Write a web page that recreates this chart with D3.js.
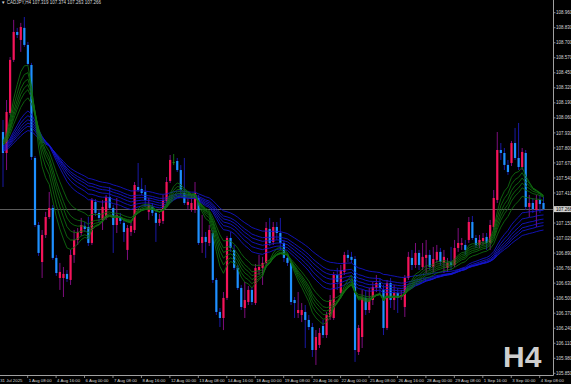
<!DOCTYPE html>
<html>
<head>
<meta charset="utf-8">
<script src="https://cdn.jsdelivr.net/npm/d3@7"></script>
<style>
  html, body { margin: 0; padding: 0; background: #000; }
  svg { display: block; }
</style>
</head>
<body>
<div id="chart"></div>
<script>
// CADJPY H4 candles, 31 Jul 2025 00:00 .. 4 Sep 2025 08:00 (153 bars)
const openP = [
  107.931, 107.750, 108.095, 108.553, 108.794, 108.725, 108.829, 108.682, 108.509, 107.707,
  107.129, 106.810, 107.043, 107.198, 107.276, 106.845, 106.672, 106.672, 106.707, 106.655,
  106.871, 107.000, 107.060, 107.121, 107.112, 106.974, 107.328, 107.233, 107.173, 107.190,
  107.371, 107.276, 107.129, 107.198, 107.147, 106.914, 107.069, 107.086, 107.457, 107.440,
  107.414, 107.242, 107.285, 107.233, 107.147, 107.164, 107.336, 107.509, 107.672, 107.681,
  107.603, 107.405, 107.302, 107.259, 107.259, 107.362, 106.974, 107.026, 106.974, 107.060,
  106.655, 106.379, 106.327, 106.500, 107.017, 106.914, 106.759, 106.586, 106.413, 106.465,
  106.569, 106.456, 106.741, 106.759, 106.802, 107.095, 106.983, 107.112, 107.060, 106.974,
  106.845, 106.802, 106.482, 106.370, 106.353, 106.379, 106.310, 106.249, 106.051, 106.094,
  106.258, 106.180, 106.336, 106.327, 106.698, 106.543, 106.724, 106.871, 106.854, 106.836,
  106.034, 106.163, 106.500, 106.396, 106.482, 106.586, 106.629, 106.569, 106.241, 106.629,
  106.482, 106.543, 106.508, 106.422, 106.672, 106.845, 106.784, 106.888, 106.767, 106.845,
  106.871, 106.767, 106.828, 106.897, 106.802, 106.759, 106.810, 106.784, 106.931, 106.957,
  106.957, 107.000, 107.155, 107.017, 106.957, 106.991, 107.026, 106.974, 107.112, 107.345,
  107.776, 107.750, 107.647, 107.664, 107.836, 107.707, 107.629, 107.750, 107.285, 107.319,
  107.259, 107.345, 107.319
];
const highP = [
  108.035, 108.207, 108.578, 108.898, 108.829, 108.872, 108.923, 108.708, 108.527, 107.724,
  107.155, 107.086, 107.242, 107.414, 107.302, 106.871, 106.802, 106.767, 106.741, 106.914,
  107.086, 107.103, 107.190, 107.155, 107.198, 107.362, 107.353, 107.259, 107.345, 107.388,
  107.457, 107.302, 107.362, 107.233, 107.173, 107.129, 107.155, 107.500, 107.664, 107.535,
  107.474, 107.362, 107.319, 107.259, 107.224, 107.388, 107.543, 107.733, 107.741, 107.707,
  107.646, 107.707, 107.362, 107.388, 107.500, 107.388, 107.216, 107.069, 107.129, 107.086,
  106.672, 106.413, 106.551, 107.035, 107.069, 106.957, 106.784, 106.612, 106.638, 106.603,
  106.595, 106.793, 106.871, 106.854, 107.155, 107.190, 107.155, 107.155, 107.190, 107.000,
  106.871, 106.828, 106.508, 106.551, 106.456, 106.439, 106.353, 106.284, 106.223, 106.241,
  106.310, 106.379, 106.525, 106.724, 106.759, 106.784, 106.897, 106.914, 106.897, 106.862,
  106.267, 106.569, 106.569, 106.586, 106.638, 106.698, 106.672, 106.612, 106.655, 106.672,
  106.612, 106.586, 106.569, 106.698, 106.897, 106.914, 106.974, 106.914, 106.974, 107.000,
  106.914, 106.940, 106.957, 106.931, 106.914, 106.845, 106.940, 107.000, 107.103, 107.017,
  107.000, 107.198, 107.207, 107.043, 107.043, 107.060, 107.060, 107.173, 107.431, 107.931,
  107.836, 107.793, 107.690, 107.854, 107.966, 108.009, 107.793, 107.776, 107.388, 107.362,
  107.388, 107.388, 107.374
];
const lowP = [
  107.457, 107.603, 108.078, 108.535, 108.742, 108.622, 108.665, 108.501, 107.690, 107.112,
  106.862, 106.672, 107.017, 107.181, 106.828, 106.690, 106.569, 106.508, 106.638, 106.612,
  106.802, 106.957, 107.035, 107.069, 106.948, 106.957, 107.207, 107.155, 107.086, 107.173,
  107.259, 106.888, 107.060, 107.138, 106.983, 106.828, 107.035, 107.060, 107.414, 107.388,
  107.285, 107.173, 107.207, 106.983, 107.121, 107.138, 107.319, 107.491, 107.646, 107.586,
  107.388, 107.302, 107.259, 107.242, 107.233, 106.957, 106.888, 106.845, 106.948, 106.629,
  106.353, 106.249, 106.223, 106.482, 106.897, 106.741, 106.569, 106.396, 106.327, 106.439,
  106.439, 106.439, 106.698, 106.612, 106.776, 106.948, 106.957, 107.000, 106.914, 106.810,
  106.776, 106.439, 106.327, 106.327, 106.292, 106.068, 106.223, 105.991, 105.922, 106.068,
  106.155, 106.155, 106.310, 106.310, 106.569, 106.508, 106.698, 106.810, 106.802, 105.948,
  106.008, 106.068, 106.353, 106.370, 106.439, 106.551, 106.525, 106.180, 106.223, 106.413,
  106.396, 106.370, 106.482, 106.336, 106.655, 106.741, 106.759, 106.741, 106.741, 106.715,
  106.741, 106.724, 106.802, 106.776, 106.715, 106.724, 106.741, 106.767, 106.897, 106.914,
  106.871, 106.974, 107.000, 106.931, 106.931, 106.957, 106.914, 106.914, 107.086, 107.319,
  107.690, 107.603, 107.561, 107.638, 107.690, 107.603, 107.603, 107.259, 107.198, 107.233,
  107.112, 107.233, 107.263
];
const closeP = [
  107.750, 108.104, 108.553, 108.794, 108.768, 108.837, 108.682, 108.518, 107.716, 107.129,
  106.888, 107.043, 107.198, 107.276, 106.845, 106.715, 106.724, 106.707, 106.664, 106.871,
  107.000, 107.069, 107.129, 107.095, 106.974, 107.345, 107.233, 107.190, 107.285, 107.371,
  107.276, 107.129, 107.216, 107.164, 107.069, 107.103, 107.121, 107.474, 107.431, 107.405,
  107.345, 107.302, 107.233, 107.147, 107.181, 107.345, 107.500, 107.690, 107.672, 107.603,
  107.431, 107.319, 107.328, 107.319, 107.405, 106.974, 107.026, 106.983, 107.086, 106.655,
  106.379, 106.327, 106.500, 107.017, 106.931, 106.759, 106.586, 106.422, 106.482, 106.569,
  106.465, 106.759, 106.767, 106.802, 107.103, 106.974, 107.112, 107.060, 106.974, 106.845,
  106.802, 106.465, 106.456, 106.396, 106.396, 106.310, 106.249, 106.051, 106.163, 106.198,
  106.180, 106.353, 106.482, 106.698, 106.638, 106.741, 106.871, 106.845, 106.828, 106.051,
  106.241, 106.500, 106.396, 106.482, 106.595, 106.629, 106.586, 106.241, 106.629, 106.482,
  106.543, 106.500, 106.525, 106.672, 106.854, 106.784, 106.888, 106.784, 106.854, 106.871,
  106.767, 106.836, 106.897, 106.810, 106.854, 106.802, 106.784, 106.931, 106.974, 106.974,
  106.914, 107.155, 107.017, 106.957, 107.000, 107.017, 106.974, 107.129, 107.362, 107.776,
  107.750, 107.647, 107.586, 107.836, 107.707, 107.629, 107.759, 107.285, 107.319, 107.267,
  107.345, 107.310, 107.266
];

// moving average ribbons (EMA periods, value at the first visible bar)
const fastPeriods = [8, 10, 12, 14, 16, 20];
const fastSeeds   = [107.854, 107.845, 107.836, 107.836, 107.828, 107.819];
const slowPeriods = [30, 35, 40, 45, 50, 60];
const slowSeeds   = [107.810, 107.802, 107.793, 107.785, 107.776, 107.767];

// axis labels
const timeTickBars = [0, 8, 16, 24, 32, 40, 48, 56, 64, 72, 80, 88, 96, 104, 112, 120, 128, 136, 144, 152];
const timeTickLabels = ["31 Jul 2025", "1 Aug 08:00", "4 Aug 16:00", "6 Aug 00:00", "7 Aug 08:00",
  "8 Aug 16:00", "12 Aug 00:00", "13 Aug 08:00", "14 Aug 16:00", "18 Aug 00:00", "19 Aug 08:00",
  "20 Aug 16:00", "22 Aug 00:00", "25 Aug 08:00", "26 Aug 16:00", "28 Aug 00:00", "29 Aug 08:00",
  "1 Sep 16:00", "3 Sep 00:00", "4 Sep 08:00"];
const priceTickLabels = ["108.960", "108.830", "108.700", "108.570", "108.450", "108.320", "108.190",
  "108.060", "107.930", "107.800", "107.670", "107.540", "107.410", "107.280", "107.150", "107.020",
  "106.890", "106.760", "106.630", "106.500", "106.370", "106.240", "106.110", "105.980", "105.850"];

const symbolTitle = "CADJPY,H4";
const periodTag = "H4";

const width = 571, height = 384;
const plotRight = 553.5, plotBottom = 375.5;
const n = closeP.length;
const lastIdx = n - 1;
const lastClose = closeP[lastIdx];

const svg = d3.select("#chart").append("svg")
  .attr("width", width)
  .attr("height", height)
  .style("background", "#000");

const x = d3.scaleLinear().domain([0, lastIdx]).range([3, 543.5]);
const y = d3.scaleLinear().domain([105.85, 108.96]).range([373.3, 12.7]);

const bars = d3.range(n).map(i => ({
  i, o: openP[i], h: highP[i], l: lowP[i], c: closeP[i]
}));

// bid line
const bidY = Math.round(y(lastClose)) + 0.5;
svg.append("line")
  .attr("x1", 0).attr("x2", plotRight)
  .attr("y1", bidY).attr("y2", bidY)
  .attr("stroke", "#5c5c5c").attr("stroke-width", 1.2);

// candles
const upBody = "#f5145a", downBody = "#1e90ff";
const upWick = "#8c0f8c", downWick = "#1c1cb8", dojiColor = "#178017";
const colorOf = (d, up, down) => d.c > d.o ? up : (d.c < d.o ? down : dojiColor);

const candles = svg.append("g").attr("class", "candles");
candles.selectAll("line")
  .data(bars)
  .enter().append("line")
  .attr("x1", d => x(d.i)).attr("x2", d => x(d.i))
  .attr("y1", d => y(d.h)).attr("y2", d => y(d.l))
  .attr("stroke", d => colorOf(d, upWick, downWick))
  .attr("stroke-width", 0.9);

candles.selectAll("rect")
  .data(bars)
  .enter().append("rect")
  .attr("x", d => x(d.i) - 1.1)
  .attr("width", 2.2)
  .attr("y", d => y(Math.max(d.o, d.c)))
  .attr("height", d => Math.max(1, Math.abs(y(d.o) - y(d.c))))
  .attr("fill", d => colorOf(d, upBody, downBody));

// EMA ribbons
function ema(period, seed) {
  const a = 2 / (period + 1);
  const out = [seed];
  for (let i = 1; i < n; i++) out.push(out[i - 1] + a * (closeP[i] - out[i - 1]));
  return out;
}

const line = d3.line().x((d, i) => x(i)).y(d => y(d));
const ribbons = svg.append("g").attr("class", "ribbons").attr("fill", "none");

slowPeriods.forEach((p, k) => {
  ribbons.append("path")
    .attr("d", line(ema(p, slowSeeds[k])))
    .attr("stroke", "#1515d2")
    .attr("stroke-width", 0.85);
});
fastPeriods.forEach((p, k) => {
  ribbons.append("path")
    .attr("d", line(ema(p, fastSeeds[k])))
    .attr("stroke", "#0f700f")
    .attr("stroke-width", 0.85);
});

// frame
svg.append("line")
  .attr("x1", plotRight).attr("x2", plotRight)
  .attr("y1", 0).attr("y2", plotBottom)
  .attr("stroke", "#a0a0a0").attr("stroke-width", 1);
svg.append("line")
  .attr("x1", 0).attr("x2", plotRight)
  .attr("y1", plotBottom).attr("y2", plotBottom)
  .attr("stroke", "#a0a0a0").attr("stroke-width", 1);

const labelFont = "'Liberation Sans', Arial, sans-serif";
const topPrice = 108.96, botPrice = 105.85;
const step = (topPrice - botPrice) / (priceTickLabels.length - 1);

// price axis
const pAxis = svg.append("g").attr("class", "price-axis");
priceTickLabels.forEach((lbl, k) => {
  const v = topPrice - k * step;
  const py = y(v);
  if (Math.abs(py - y(lastClose)) < 5) return;
  pAxis.append("line")
    .attr("x1", plotRight).attr("x2", plotRight + 2)
    .attr("y1", py).attr("y2", py)
    .attr("stroke", "#a0a0a0").attr("stroke-width", 0.8);
  pAxis.append("text")
    .attr("x", 556).attr("y", py + 1.6)
    .attr("font-family", labelFont).attr("font-size", 4.5)
    .attr("fill", "#d8d8d8")
    .text(lbl);
});

// current price tag
pAxis.append("rect")
  .attr("x", plotRight + 0.5).attr("y", y(lastClose) - 3)
  .attr("width", width - plotRight).attr("height", 6)
  .attr("fill", "#d0d0d0");
pAxis.append("text")
  .attr("x", 556).attr("y", y(lastClose) + 1.6)
  .attr("font-family", labelFont).attr("font-size", 4.5)
  .attr("fill", "#000")
  .text(lastClose.toFixed(3));

// time axis
const tAxis = svg.append("g").attr("class", "time-axis");
timeTickBars.forEach((b, k) => {
  const tx = x(b) - 3.3;
  tAxis.append("line")
    .attr("x1", tx - 0.5).attr("x2", tx - 0.5)
    .attr("y1", plotBottom).attr("y2", plotBottom + 2.5)
    .attr("stroke", "#a0a0a0").attr("stroke-width", 0.8);
  tAxis.append("text")
    .attr("x", tx + 0.5).attr("y", 381.5)
    .attr("font-family", labelFont).attr("font-size", 4.3)
    .attr("fill", "#d8d8d8")
    .text(timeTickLabels[k]);
});

// header
svg.append("text")
  .attr("x", 1).attr("y", 4.2)
  .attr("font-family", labelFont).attr("font-size", 4.5)
  .attr("fill", "#d8d8d8")
  .text("\u25BC " + symbolTitle + "  " + [openP[lastIdx], highP[lastIdx], lowP[lastIdx], closeP[lastIdx]]
    .map(v => v.toFixed(3)).join(" "));

// timeframe watermark
svg.append("text")
  .attr("x", 503).attr("y", 367)
  .attr("font-family", labelFont).attr("font-weight", "bold")
  .attr("font-size", 30)
  .attr("fill", "#cfcfcf")
  .text(periodTag);
</script>
</body>
</html>
